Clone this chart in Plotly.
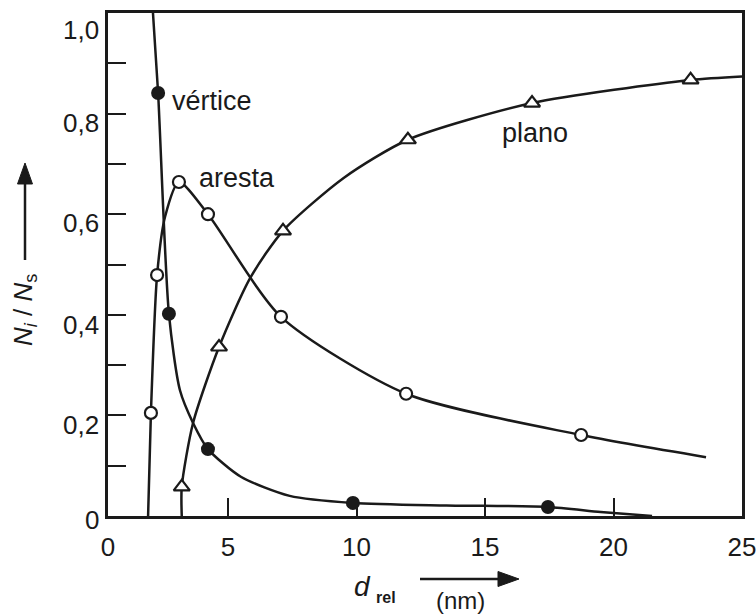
import plotly.graph_objects as go

# ---- data ----
# vértice (filled circles)
vert_mx = [2.28, 2.70, 4.22, 9.86, 17.45]
vert_my = [0.841, 0.402, 0.133, 0.026, 0.018]
vert_cx = [2.08, 2.28, 2.70, 3.13, 3.64, 4.22, 5.5, 7.4, 9.86, 13.5, 17.45, 19.5, 21.5]
vert_cy = [1.0, 0.841, 0.402, 0.25, 0.185, 0.133, 0.078, 0.040, 0.026, 0.021, 0.018, 0.008, 0.0]

# aresta (open circles)
ares_mx = [2.0, 2.24, 3.09, 4.22, 7.06, 11.93, 18.74]
ares_my = [0.205, 0.479, 0.664, 0.600, 0.396, 0.243, 0.161]
ares_cx = [1.89, 2.0, 2.24, 2.55, 3.09, 4.22, 7.06, 11.93, 18.74, 23.6]
ares_cy = [0.0, 0.205, 0.479, 0.595, 0.664, 0.600, 0.396, 0.243, 0.161, 0.117]

# plano (open triangles)
plan_mx = [3.2, 4.65, 7.14, 12.0, 16.83, 23.0]
plan_my = [0.058, 0.336, 0.567, 0.748, 0.821, 0.867]
plan_cx = [3.2, 3.2, 3.64, 4.65, 5.86, 7.14, 9.5, 12.0, 16.83, 23.0, 25.0]
plan_cy = [0.0, 0.058, 0.185, 0.336, 0.473, 0.567, 0.672, 0.748, 0.821, 0.867, 0.874]

x_tickvals = [0.33, 5, 10, 15, 20, 25]
x_ticktext = ["0", "5", "10", "15", "20", "25"]
y_tickvals = [0, 0.2, 0.4, 0.6, 0.8, 1.0]
y_ticktext = ["0", "0,2", "0,4", "0,6", "0,8", "1,0"]

FONT = "Liberation Sans, Arial, sans-serif"
BLACK = "#1a1a1a"

W, H = 756, 614
L, R, T, B = 108, 14, 13, 98
PW, PH = W - L - R, H - T - B

# vertical pixel offsets of the y labels below their ticks (as typeset in the reference)
Y_LABEL_SHIFT = [-4, -10, -10, -9, -9, -17]


def px(xp):
    return (xp - L) / PW


def py(yp):
    return (H - B - yp) / PH


fig = go.Figure()

line_style = dict(color=BLACK, width=2.5, shape="spline", smoothing=0.7)
fig.add_trace(go.Scatter(x=vert_cx, y=vert_cy, mode="lines", line=line_style, hoverinfo="skip"))
fig.add_trace(go.Scatter(x=ares_cx, y=ares_cy, mode="lines", line=line_style, hoverinfo="skip"))
fig.add_trace(go.Scatter(x=plan_cx, y=plan_cy, mode="lines", line=line_style, hoverinfo="skip"))

fig.add_trace(go.Scatter(x=vert_mx, y=vert_my, mode="markers",
                         marker=dict(symbol="circle", size=14, color=BLACK, line=dict(width=0))))
fig.add_trace(go.Scatter(x=ares_mx, y=ares_my, mode="markers",
                         marker=dict(symbol="circle", size=12, color="white",
                                     line=dict(color=BLACK, width=2.2))))
fig.add_trace(go.Scatter(x=plan_mx, y=plan_my, mode="markers",
                         marker=dict(symbol="triangle-up", size=14, color="white",
                                     line=dict(color=BLACK, width=2.2))))

annotations = [
    dict(x=4.38, y=0.825, xref="x", yref="y", text="vértice", showarrow=False,
         font=dict(size=27, family=FONT, color=BLACK), xanchor="center", yanchor="middle"),
    dict(x=5.35, y=0.672, xref="x", yref="y", text="aresta", showarrow=False,
         font=dict(size=27, family=FONT, color=BLACK), xanchor="center", yanchor="middle"),
    dict(x=16.94, y=0.761, xref="x", yref="y", text="plano", showarrow=False,
         font=dict(size=27, family=FONT, color=BLACK), xanchor="center", yanchor="middle"),
    # y-axis title
    dict(x=px(24), y=py(310), xref="paper", yref="paper",
         text="<i>N</i><sub><i>i</i></sub> / <i>N</i><sub>s</sub>", textangle=-90,
         showarrow=False, font=dict(size=26, family=FONT, color=BLACK),
         xanchor="center", yanchor="middle"),
    # x-axis title parts
    dict(x=px(362), y=py(586), xref="paper", yref="paper", text="<i>d</i>",
         showarrow=False, font=dict(size=28, family=FONT, color=BLACK),
         xanchor="center", yanchor="middle"),
    dict(x=px(386), y=py(597), xref="paper", yref="paper", text="<b>rel</b>",
         showarrow=False, font=dict(size=16, family=FONT, color=BLACK),
         xanchor="center", yanchor="middle"),
    dict(x=px(460), y=py(600), xref="paper", yref="paper", text="(nm)",
         showarrow=False, font=dict(size=24, family=FONT, color=BLACK),
         xanchor="center", yanchor="middle"),
]

# y tick labels, placed a little below their ticks as in the reference
for v, t, s in zip(y_tickvals, y_ticktext, Y_LABEL_SHIFT):
    annotations.append(dict(x=px(101), y=v, xref="paper", yref="y", text=t,
                            showarrow=False, yshift=s,
                            font=dict(size=26, family=FONT, color=BLACK),
                            xanchor="right", yanchor="middle"))


def pth(points):
    s = "M " + " L ".join(f"{px(a):.5f},{py(b):.5f}" for a, b in points) + " Z"
    return s


shapes = [
    # y arrow
    dict(type="line", xref="paper", yref="paper", x0=px(25), y0=py(260), x1=px(25), y1=py(178),
         line=dict(color=BLACK, width=2.5)),
    dict(type="path", xref="paper", yref="paper",
         path=pth([(25, 163), (17.5, 184), (32.5, 184)]),
         fillcolor=BLACK, line=dict(color=BLACK, width=1)),
    # x arrow
    dict(type="line", xref="paper", yref="paper", x0=px(420), y0=py(579), x1=px(502), y1=py(579),
         line=dict(color=BLACK, width=2.5)),
    dict(type="path", xref="paper", yref="paper",
         path=pth([(519, 579), (498, 571.5), (498, 586.5)]),
         fillcolor=BLACK, line=dict(color=BLACK, width=1)),
]

fig.update_layout(
    width=W, height=H,
    margin=dict(l=L, r=R, t=T, b=B, autoexpand=False),
    paper_bgcolor="white", plot_bgcolor="white",
    showlegend=False,
    annotations=annotations,
    shapes=shapes,
    font=dict(family=FONT, size=26, color=BLACK),
)

fig.update_xaxes(
    range=[0.33, 25], showgrid=False, zeroline=False, automargin=False,
    showline=True, linecolor=BLACK, linewidth=3, mirror=True,
    ticks="inside", ticklen=18, tickwidth=2.2, tickcolor=BLACK,
    tickvals=x_tickvals, ticktext=x_ticktext,
    tickfont=dict(size=26, family=FONT, color=BLACK),
    ticklabelstandoff=6, ticklabeloverflow="allow",
)
fig.update_yaxes(
    range=[0, 1.0], showgrid=False, zeroline=False, automargin=False,
    showline=True, linecolor=BLACK, linewidth=3, mirror=True,
    ticks="inside", ticklen=18, tickwidth=2.2, tickcolor=BLACK,
    tickvals=y_tickvals, showticklabels=False,
    minor=dict(dtick=0.1, tick0=0, ticks="inside", ticklen=18, tickwidth=2.2,
               tickcolor=BLACK, showgrid=False),
)

fig.write_html("out.html")
